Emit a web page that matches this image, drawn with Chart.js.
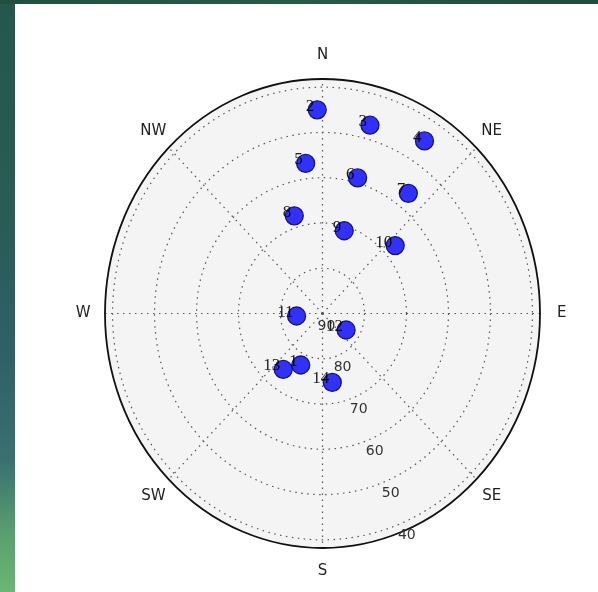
<!DOCTYPE html>
<html>
<head>
<meta charset="utf-8">
<title>Sky plot</title>
<script src="https://cdn.jsdelivr.net/npm/chart.js@4.4.1/dist/chart.umd.min.js"></script>
<style>
  html, body { margin: 0; padding: 0; background: #fff; }
  #wrap { position: relative; width: 598px; height: 592px; overflow: hidden; }
  #side { position: absolute; left: 0; top: 0; width: 15px; height: 592px;
    background: linear-gradient(to bottom, #25574b 0%, #2a5b55 35%, #2f6068 60%, #3a7170 78%, #5a9e6f 90%, #6cb673 100%); }
  #top { position: absolute; left: 0; top: 0; width: 598px; height: 4px;
    background: linear-gradient(to right, #22503f 0%, #285a48 50%, #21493d 100%); }
  #sky { position: absolute; left: 0; top: 0; }
</style>
</head>
<body>
<div id="wrap">
  <div id="side"></div>
  <div id="top"></div>
  <canvas id="sky" width="598" height="592"></canvas>
</div>
<script>
// satellites in view: number, azimuth (deg from north, clockwise), elevation (deg)
const satNumbers = [1, 2, 3, 4, 5, 6, 7, 8, 9, 10, 11, 12, 13, 14];
const azimuths   = [204.5, 358.4, 15.2, 32.5, 353.1, 15.6, 37.6, 342.7, 15.8, 49.1, 264.9, 123.0, 217.1, 171.3];
const elevations = [77.5, 45.0, 46.9, 44.8, 56.6, 58.9, 56.5, 67.4, 71.0, 67.1, 83.8, 83.3, 74.5, 74.6];

const compassLabels = ['N', 'NE', 'E', 'SE', 'S', 'SW', 'W', 'NW'];
const ringElevations = [90, 80, 70, 60, 50, 40];
const RMAX = 51.8;          // zenith distance at the outer edge
const RING_LABEL_AZ = 157.5;

const rad = d => d * Math.PI / 180;
// zenith distance r = 90 - elevation, north up
function toXY(az, el) {
  const r = 90 - el;
  return { x: r * Math.sin(rad(az)), y: r * Math.cos(rad(az)) };
}

const points = satNumbers.map((n, i) => toXY(azimuths[i], elevations[i]));

const polarGrid = {
  id: 'polarGrid',
  beforeDatasetsDraw(chart) {
    const { ctx, scales: { x, y } } = chart;
    const cx = x.getPixelForValue(0), cy = y.getPixelForValue(0);
    const rx = v => x.getPixelForValue(v) - cx;
    const ry = v => cy - y.getPixelForValue(v);
    ctx.save();
    // face
    ctx.beginPath();
    ctx.ellipse(cx, cy, rx(RMAX), ry(RMAX), 0, 0, Math.PI * 2);
    ctx.fillStyle = '#f4f4f4';
    ctx.fill();
    // dotted rings and spokes
    ctx.strokeStyle = '#555';
    ctx.lineWidth = 1.2;
    ctx.setLineDash([1.5, 4.5]);
    for (let r = 10; r <= 50; r += 10) {
      ctx.beginPath();
      ctx.ellipse(cx, cy, rx(r), ry(r), 0, 0, Math.PI * 2);
      ctx.stroke();
    }
    for (let a = 0; a < 360; a += 45) {
      const p = { x: RMAX * Math.sin(rad(a)), y: RMAX * Math.cos(rad(a)) };
      ctx.beginPath();
      ctx.moveTo(cx, cy);
      ctx.lineTo(x.getPixelForValue(p.x), y.getPixelForValue(p.y));
      ctx.stroke();
    }
    // outer edge
    ctx.setLineDash([]);
    ctx.strokeStyle = '#111';
    ctx.lineWidth = 1.8;
    ctx.beginPath();
    ctx.ellipse(cx, cy, rx(RMAX), ry(RMAX), 0, 0, Math.PI * 2);
    ctx.stroke();
    ctx.restore();
  },
  afterDatasetsDraw(chart) {
    const { ctx, scales: { x, y } } = chart;
    ctx.save();
    // satellite numbers beside the markers
    ctx.font = '17px "Liberation Serif", "DejaVu Serif", serif';
    ctx.fillStyle = 'rgba(0,0,0,0.88)';
    ctx.textAlign = 'right';
    ctx.textBaseline = 'alphabetic';
    points.forEach((p, i) => {
      ctx.fillText(String(satNumbers[i]), x.getPixelForValue(p.x) - 3, y.getPixelForValue(p.y) + 1);
    });
    // elevation ring labels
    ctx.font = '14px "DejaVu Sans", sans-serif';
    ctx.fillStyle = '#333';
    ctx.textAlign = 'center';
    ctx.textBaseline = 'middle';
    ringElevations.forEach(el => {
      const p = toXY(RING_LABEL_AZ, el);
      ctx.fillText(String(el), x.getPixelForValue(p.x) + 4, y.getPixelForValue(p.y) + 12.5);
    });
    // compass directions
    ctx.font = '15px "DejaVu Sans", sans-serif';
    ctx.fillStyle = '#222';
    compassLabels.forEach((lab, i) => {
      const a = i * 45, r = RMAX * 1.1;
      ctx.fillText(lab, x.getPixelForValue(r * Math.sin(rad(a))), y.getPixelForValue(r * Math.cos(rad(a))));
    });
    ctx.restore();
  }
};

new Chart(document.getElementById('sky'), {
  type: 'scatter',
  data: {
    datasets: [{
      data: points,
      pointRadius: 9,
      pointHoverRadius: 9,
      backgroundColor: '#3131fb',
      borderColor: '#15157a',
      borderWidth: 1.3
    }]
  },
  options: {
    responsive: false,
    animation: false,
    events: [],
    layout: { padding: { left: 105, right: 58, top: 79, bottom: 44 } },
    plugins: { legend: { display: false }, tooltip: { enabled: false } },
    scales: {
      x: { type: 'linear', min: -RMAX, max: RMAX, display: false },
      y: { type: 'linear', min: -RMAX, max: RMAX, display: false }
    }
  },
  plugins: [polarGrid]
});
</script>
</body>
</html>
